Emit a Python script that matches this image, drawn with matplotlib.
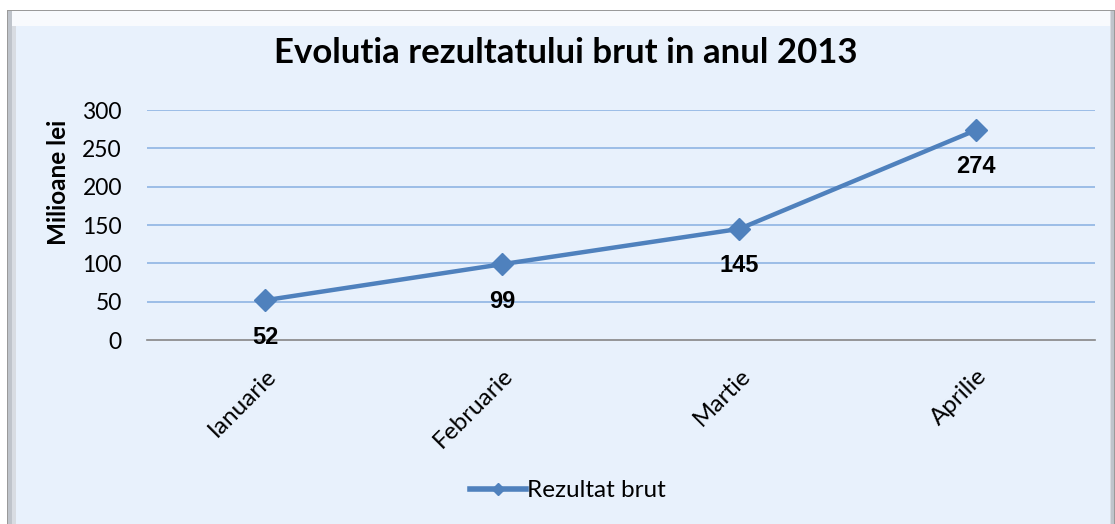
import matplotlib.pyplot as plt
from matplotlib.patches import Rectangle

luni = ["Ianuarie", "Februarie", "Martie", "Aprilie"]
rezultat = [52, 99, 145, 274]
yticks = [0, 50, 100, 150, 200, 250, 300]

blue = "#4F81BD"
bg = "#E8F1FC"

fig = plt.figure(figsize=(11.15, 5.24), dpi=100)
fig.patch.set_facecolor("white")

W, H = 1115.0, 524.0
def px_rect(x0, y0, x1, y1, **kw):
    # rectangle given in pixel coords, y measured from the top
    return Rectangle((x0 / W, 1 - y1 / H), (x1 - x0) / W, (y1 - y0) / H,
                     transform=fig.transFigure, **kw)

# chart frame with bevel / shadow
fig.patches.append(px_rect(7, 10, 1115, 530, facecolor="#9A9A9A", edgecolor="none", zorder=-5))
fig.patches.append(px_rect(8, 11, 1114, 530, facecolor="#BFC4CB", edgecolor="none", zorder=-4))
fig.patches.append(px_rect(12, 11, 1111, 530, facecolor="#D8DCE2", edgecolor="none", zorder=-3))
fig.patches.append(px_rect(12, 11, 1110, 26, facecolor="#F8FAFD", edgecolor="none", zorder=-2))
fig.patches.append(px_rect(16, 26, 1110, 530, facecolor=bg, edgecolor="none", zorder=-1))

ax = fig.add_axes([0.1318, 0.351, 0.850, 0.439])
ax.set_facecolor("none")

x = range(len(luni))
ax.plot(x, rezultat, color=blue, lw=3.2, marker="D", markersize=11,
        label="Rezultat brut", zorder=3)
for i, v in zip(x, rezultat):
    ax.annotate(str(v), (i, v), xytext=(0, -37), textcoords="offset pixels",
                ha="center", va="center", fontsize=17, fontweight="bold",
                family="Liberation Sans")

ax.set_xlim(-0.5, len(luni) - 0.5)
ax.set_ylim(0, 300)
ax.set_yticks(yticks)
ax.set_yticklabels([str(t) for t in yticks], family="Lato", fontsize=16.5)
ax.set_xticks(list(x))
ax.set_xticklabels(luni, family="Lato", fontsize=17.5, rotation=45,
                   ha="right", rotation_mode="anchor")
ax.tick_params(axis="both", length=0)
ax.tick_params(axis="y", pad=18)
ax.tick_params(axis="x", pad=18)
for t in yticks[1:]:
    ax.axhline(t, color="#8EB4E3", lw=1.2, zorder=1)
for s in ["top", "right", "left"]:
    ax.spines[s].set_visible(False)
ax.spines["bottom"].set_color("#868686")
ax.spines["bottom"].set_linewidth(1.2)

ax.set_ylabel("Milioane lei", family="Lato", fontweight="bold", fontsize=17.5)
ax.yaxis.set_label_coords(-0.081, 0.687)

fig.text(0.507, 0.898, "Evolutia rezultatului brut in anul 2013", ha="center", va="center",
         family="Lato", fontweight="bold", fontsize=25)

leg = fig.legend(loc="center", bbox_to_anchor=(0.509, 0.063), frameon=False,
                 prop={"family": "Lato", "size": 17.5}, handlelength=2.3,
                 handletextpad=0.05, markerscale=0.6)
for h in leg.legend_handles:
    h.set_linewidth(4)

fig.savefig("out.png", dpi=100)
